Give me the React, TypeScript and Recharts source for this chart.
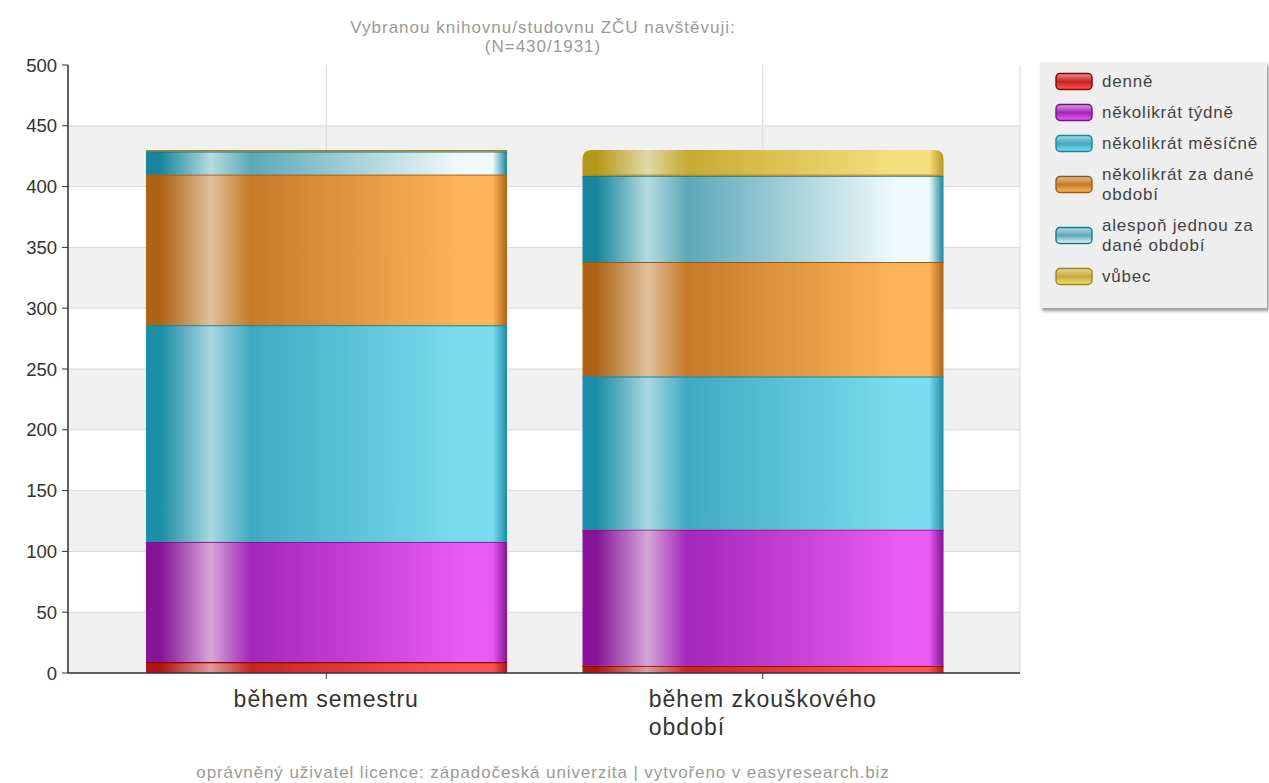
import { BarChart, Bar, XAxis, YAxis, CartesianGrid } from "recharts";

const categories = ["během semestru", "během zkouškového období"];
const denne = [9, 6];
const nekolikratTydne = [99, 112];
const nekolikratMesicne = [178, 126];
const nekolikratZaObdobi = [124, 94];
const alesponJednou = [19, 71];
const vubec = [1, 21];
const yTicks = [0, 50, 100, 150, 200, 250, 300, 350, 400, 450, 500];
const gridValues = [0, 50, 100, 150, 200, 250, 300, 350, 400, 450];

const data = categories.map((name, i) => ({
  name,
  denne: denne[i],
  tydne: nekolikratTydne[i],
  mesicne: nekolikratMesicne[i],
  obdobi: nekolikratZaObdobi[i],
  alespon: alesponJednou[i],
  vubec: vubec[i],
}));

// colours: [edge, highlight, mid, bright, top line]
const series = [
  { key: "denne", name: "denně", c: ["#b01414", "#e09a9a", "#c82424", "#ff5252", "#8c0000"] },
  { key: "tydne", name: "několikrát týdně", c: ["#861496", "#d6a6d8", "#a426ba", "#e85af2", "#741084"] },
  { key: "mesicne", name: "několikrát měsíčně", c: ["#1a8ea6", "#a8d8e2", "#3eaac2", "#7adcf0", "#17869e"] },
  { key: "obdobi", name: ["několikrát za dané", "období"], c: ["#ae6414", "#e0c09a", "#c67a26", "#ffb458", "#9c5810"] },
  { key: "alespon", name: ["alespoň jednou za", "dané období"], c: ["#17869c", "#b6dce2", "#5ca8b8", "#f0fafc", "#137890"] },
  { key: "vubec", name: "vůbec", c: ["#b8981a", "#e0d8a6", "#c8aa34", "#f6e07e", "#a08810"] },
];

const FONT = "'Liberation Sans', Arial, sans-serif";

const makeShape = (id: string, line: string, radius: number) => (props: any) => {
  const { x, y, width, height } = props;
  if (!height || height <= 0) return <g />;
  const r = Math.min(radius, height / 2, width / 2);
  const d =
    r > 0
      ? `M${x},${y + height} L${x},${y + r} Q${x},${y} ${x + r},${y} L${x + width - r},${y} Q${x + width},${y} ${x + width},${y + r} L${x + width},${y + height} Z`
      : `M${x},${y + height} L${x},${y} L${x + width},${y} L${x + width},${y + height} Z`;
  return (
    <g>
      <path d={d} fill={`url(#${id})`} />
      {r < 1 && <line x1={x} x2={x + width} y1={y + 0.5} y2={y + 0.5} stroke={line} strokeWidth={1.2} />}
      {r >= 1 && <line x1={x + 2} x2={x + width - 2} y1={y + height - 0.5} y2={y + height - 0.5} stroke={line} strokeWidth={1} />}
    </g>
  );
};

const LS = 1;
const measure = (text: string, font: string) => {
  const ctx = document.createElement("canvas").getContext("2d");
  if (!ctx) return text.length * 12;
  ctx.font = font;
  return ctx.measureText(text).width + text.length * LS;
};

const XTick = (props: any) => {
  const { x, y, payload } = props;
  const font = "23px 'Liberation Sans'";
  const words = String(payload.value).split(" ");
  const lines: string[] = [];
  let cur = "";
  words.forEach((w) => {
    const t = cur ? cur + " " + w : w;
    if (measure(t, font) > 260 && cur) {
      lines.push(cur);
      cur = w;
    } else cur = t;
  });
  if (cur) lines.push(cur);
  const blockW = Math.max(...lines.map((l) => measure(l, font)));
  return (
    <text x={x - blockW / 2} y={y + 26} fill="#333" fontSize={23} letterSpacing={LS} fontFamily={FONT} textAnchor="start">
      {lines.map((l, i) => (
        <tspan key={i} x={x - blockW / 2} dy={i === 0 ? 0 : 28}>
          {l}
        </tspan>
      ))}
    </text>
  );
};

const LegendBox = () => (
  <div
    style={{
      position: "absolute",
      left: 1040,
      top: 62,
      width: 227,
      height: 246,
      background: "#eeeeef",
      boxShadow: "2px 3px 3px #9a9a9a",
      fontFamily: FONT,
      fontSize: 17,
      letterSpacing: 0.8,
      color: "#444",
      paddingTop: 10,
      boxSizing: "border-box",
    }}
  >
    {series.map((s) => {
      const lines = Array.isArray(s.name) ? s.name : [s.name];
      return (
        <div key={s.key} style={{ display: "flex", alignItems: "center", marginLeft: 15, marginBottom: 11 }}>
          <svg width={40} height={20} style={{ marginRight: 7, flex: "none" }}>
            <defs>
              <linearGradient id={`lg-${s.key}`} x1="0" y1="0" x2="0" y2="1">
                <stop offset="0" stopColor={s.c[1]} />
                <stop offset="0.5" stopColor={s.c[2]} />
                <stop offset="1" stopColor={s.c[3]} />
              </linearGradient>
            </defs>
            <rect x={1} y={1.5} width={36} height={16} rx={4} fill={`url(#lg-${s.key})`} stroke={s.c[4]} strokeWidth={1.4} />
          </svg>
          <div style={{ lineHeight: "20px" }}>
            {lines.map((l, i) => (
              <div key={i}>{l}</div>
            ))}
          </div>
        </div>
      );
    })}
  </div>
);

export default function App() {
  return (
    <div style={{ position: "absolute", left: 0, top: 0, width: 1269, height: 783, background: "#fff", fontFamily: FONT }}>
      <BarChart
        width={1269}
        height={783}
        data={data}
        margin={{ top: 65, right: 249, bottom: 80, left: 0 }}
        barSize={361}
      >
        <defs>
          {series.map((s) => (
            <linearGradient key={s.key} id={`g-${s.key}`} x1="0" y1="0" x2="1" y2="0">
              <stop offset="0" stopColor={s.c[0]} />
              <stop offset="0.04" stopColor={s.c[0]} />
              <stop offset="0.18" stopColor={s.c[1]} />
              <stop offset="0.29" stopColor={s.c[2]} />
              <stop offset="0.87" stopColor={s.c[3]} />
              <stop offset="0.96" stopColor={s.c[3]} />
              <stop offset="1" stopColor={s.c[0]} />
            </linearGradient>
          ))}
        </defs>
        <CartesianGrid
          stroke="#d8d8d8"
          horizontalValues={gridValues}
          horizontalFill={["#ffffff", "#f0f0f0"]}
          fillOpacity={1}
        />
        <XAxis
          dataKey="name"
          height={30}
          padding={{ left: 40, right: 39 }}
          axisLine={{ stroke: "#333", strokeWidth: 1.5 }}
          tickLine={{ stroke: "#333" }}
          tickSize={6}
          tick={<XTick />}
          interval={0}
        />
        <YAxis
          width={68}
          domain={[0, 500]}
          ticks={yTicks}
          interval={0}
          axisLine={{ stroke: "#333", strokeWidth: 1.5 }}
          tickLine={{ stroke: "#333" }}
          tickSize={6}
          tickMargin={5}
          tick={{ fill: "#333", fontSize: 18.5, fontFamily: FONT }}
        />
        {series.map((s, i) => (
          <Bar
            key={s.key}
            dataKey={s.key}
            stackId="a"
            fill={s.c[2]}
            isAnimationActive={false}
            shape={makeShape(`g-${s.key}`, s.c[4], i === series.length - 1 ? 9 : 0)}
          />
        ))}
      </BarChart>
      <div style={{ position: "absolute", left: 0, width: 1086, top: 18, textAlign: "center", color: "#9a9a9a", fontSize: 17, letterSpacing: 1, lineHeight: "19px" }}>
        <div>Vybranou knihovnu/studovnu ZČU navštěvuji:</div>
        <div>(N=430/1931)</div>
      </div>
      <LegendBox />
      <div style={{ position: "absolute", left: 0, width: 1086, top: 763, textAlign: "center", color: "#9a9a9a", fontSize: 17, letterSpacing: 0.9, lineHeight: "20px" }}>
        oprávněný uživatel licence: západočeská univerzita | vytvořeno v easyresearch.biz
      </div>
    </div>
  );
}
